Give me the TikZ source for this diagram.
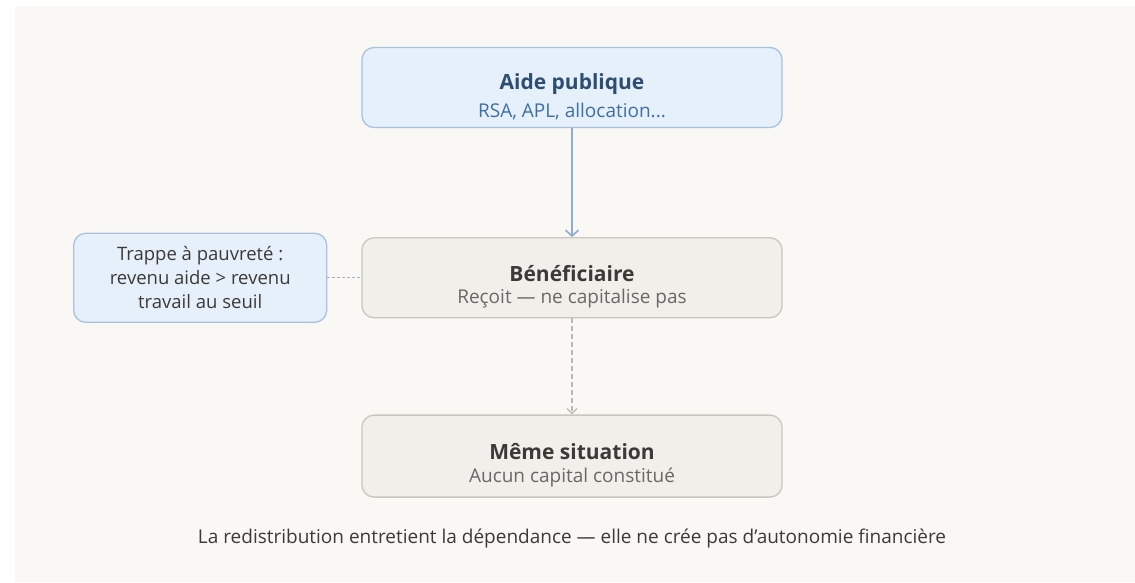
\documentclass[tikz,border=0pt]{standalone}
\usepackage{fontspec}
\setmainfont{Open Sans}
\usetikzlibrary{arrows.meta,positioning}
\definecolor{fond}{HTML}{F9F8F5}
\definecolor{bleufond}{HTML}{E6F0FB}
\definecolor{bleutrait}{HTML}{A9C2E0}
\definecolor{bleutitre}{HTML}{2E4D72}
\definecolor{bleutexte}{HTML}{3F6EA6}
\definecolor{bleufleche}{HTML}{8EACD6}
\definecolor{grisfond}{HTML}{F1EFEA}
\definecolor{gristrait}{HTML}{CAC6BF}
\definecolor{gristitre}{HTML}{3C3A37}
\definecolor{gristexte}{HTML}{6A6864}
\definecolor{grisfleche}{HTML}{BEB9B1}
\definecolor{lien}{HTML}{A8B5C4}
\tikzset{
	bloc/.style={
		rectangle,
		rounded corners=12pt,
		line width=1.3pt,
		draw=gristrait,
		fill=grisfond,
		minimum width=420pt,
		minimum height=80pt,
		text=gristitre,
		align=center
	},
	blocbleu/.style={
		bloc,
		draw=bleutrait,
		fill=bleufond,
		text=bleutitre
	},
	note/.style={
		blocbleu,
		minimum width=253pt,
		minimum height=89pt,
		text=gristitre,
		font=\fontsize{18.5}{24}\selectfont
	},
	fleche/.style={
		draw=bleufleche,
		line width=1.6pt,
		-{Straight Barb[length=6pt,width=13pt]}
	},
	flechegris/.style={
		draw=grisfleche,
		line width=1.3pt,
		dash pattern=on 5pt off 3pt,
		-{Straight Barb[length=5pt,width=10pt]}
	},
	lienpointille/.style={
		draw=lien,
		line width=1.2pt,
		dash pattern=on 3pt off 2pt
	},
}
% le filet invisible descend un peu les deux lignes dans la boite
\newcommand{\titre}[1]{{\fontsize{21}{24}\selectfont\bfseries\rule{0pt}{34pt}#1}}
\newcommand{\soustitre}[2]{{\fontsize{19}{23}\selectfont\color{#1}#2}}

\begin{document}
\begin{tikzpicture}[x=1pt,y=1pt]
		\fill[white] (0,0) rectangle (1135,-582);
		\fill[fond] (15,-6) rectangle (1135,-582);
		\node (aide) [blocbleu] at (572,-87.5) {\titre{Aide publique}\\[7pt]\soustitre{bleutexte}{RSA, APL, allocation...}};
		\node (benef) [bloc, below=109pt of aide] {\titre{Bénéficiaire}\\[7pt]\soustitre{gristexte}{Reçoit — ne capitalise pas}};
		\node (meme) [bloc, below=96pt of benef, minimum height=82pt] {\titre{Même situation}\\[7pt]\soustitre{gristexte}{Aucun capital constitué}};
		\node (trappe) [note, left=34pt of benef] {Trappe à pauvreté :\\revenu aide > revenu\\travail au seuil};
		\node (legende) [below=28pt of meme, text=gristitre, font=\fontsize{19}{22}\selectfont] {La redistribution entretient la dépendance — elle ne crée pas d'autonomie financière};
		\draw [fleche] (aide) -- (benef);
		\draw [flechegris] (benef) -- (meme);
		\draw [lienpointille] (trappe) -- (benef);
		\end{tikzpicture}
\end{document}
